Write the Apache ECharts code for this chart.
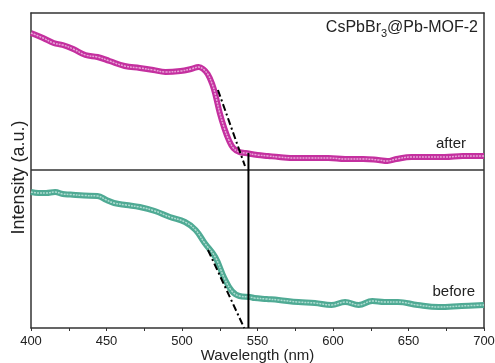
<!DOCTYPE html>
<html><head><meta charset="utf-8">
<script src="https://cdn.jsdelivr.net/npm/echarts@6/dist/echarts.min.js"></script>
<style>html,body{margin:0;padding:0;background:#fff}#c{width:495px;height:363px}</style>
</head><body><div id="c"></div>
<script>
// Wavelength (nm) and relative intensity (arbitrary units, offset-stacked)
const afterWl = [400,408,415,421,428,436,444,452,462,472,481,489,499,506,511,514,517,520,522,525,528,531,534,538,542,550,557,564,575,586,597,608,620,630,636,642,652,663,674,686,696,700];
const afterVal = [295,290,285,283,279,273,271,267,262,260,258,256,257,259,261,259,254,244,234,215,200,188,180,176,175,173,172,171,170,170,170,169,169,168,167,169,171,171,171,172,172,172];
const beforeWl = [400,405,410,416,421,426,435,444,450,455,463,472,482,492,502,509,515,522,528,533,538,545,548,556,564,577,588,599,608,617,626,634,643,656,670,685,700];
const beforeVal = [136,135,135,136,134,133.5,132.5,132,128,125,123,121,117,111,106,98,85,71,50,37,32,31,30,29,28,26,25,23,26,23,27,26,26,23,21,22,23];
const tangentAfter = [[523.8,238],[541.7,162]];
const tangentBefore = [[517.2,78],[541.2,0]];
const edgeWl = 544;
const edgeTop = 175;
const dividerVal = 158;
const xTicks = [400,450,500,550,600,650,700];

const zip = (a,b)=>a.map((x,i)=>[x,b[i]]);
const chart = echarts.init(document.getElementById('c'));
const font = 'Arial, "Liberation Sans", sans-serif';
const dashDot = [7,3,2,3];
const frameLine = {show:true,onZero:false,lineStyle:{color:'#333',width:1.5}};
chart.setOption({
  animation:false,
  grid:{left:31,right:11,top:13,bottom:35,outerBoundsMode:'none',containLabel:false},
  xAxis:[{type:'value',min:400,max:700,interval:50,
    axisLine:frameLine,
    axisTick:{show:true,inside:false,length:3,lineStyle:{color:'#333'}},
    minorTick:{show:true,splitNumber:2,length:3,lineStyle:{color:'#333'}},
    splitLine:{show:false},
    axisLabel:{color:'#222',fontSize:13,fontFamily:font,margin:7,
      formatter:v=>xTicks.includes(v)?String(v):''},
    name:'Wavelength (nm)',nameLocation:'middle',nameGap:20,nameMoveOverlap:false,
    nameTextStyle:{color:'#222',fontSize:15,fontFamily:font}},
   {type:'value',position:'top',min:400,max:700,
    axisLine:frameLine,
    axisTick:{show:false},axisLabel:{show:false},splitLine:{show:false}}],
  yAxis:[{type:'value',min:0,max:315,
    axisLine:frameLine,
    axisTick:{show:false},axisLabel:{show:false},splitLine:{show:false},
    name:'Intensity (a.u.)',nameLocation:'middle',nameGap:3,nameRotate:90,
    nameTextStyle:{color:'#222',fontSize:18,fontFamily:font,padding:[0,14,0,0]}},
   {type:'value',position:'right',min:0,max:315,
    axisLine:frameLine,
    axisTick:{show:false},axisLabel:{show:false},splitLine:{show:false}}],
  series:[
    {type:'line',data:[[400,dividerVal],[700,dividerVal]],showSymbol:false,silent:true,
      lineStyle:{color:'#333',width:1.5}},
    {type:'line',data:zip(afterWl,afterVal),smooth:0.4,showSymbol:false,
      lineStyle:{color:'#C4309F',width:6}},
    {type:'line',data:zip(afterWl,afterVal),smooth:0.4,showSymbol:false,
      lineStyle:{color:'#E8A6D8',width:1.5,type:[2,1]}},
    {type:'line',data:zip(beforeWl,beforeVal),smooth:0.4,showSymbol:false,
      lineStyle:{color:'#4FAA94',width:6}},
    {type:'line',data:zip(beforeWl,beforeVal),smooth:0.4,showSymbol:false,
      lineStyle:{color:'#B0DDD2',width:1.5,type:[2,1]}},
    {type:'line',data:tangentAfter,showSymbol:false,lineStyle:{color:'#000',width:2,type:dashDot}},
    {type:'line',data:tangentBefore,showSymbol:false,lineStyle:{color:'#000',width:2,type:dashDot}},
    {type:'line',data:[[edgeWl,0],[edgeWl,edgeTop]],showSymbol:false,lineStyle:{color:'#000',width:2}}
  ],
  graphic:[
    {type:'text',right:17,top:20,style:{text:'{a|CsPbBr}{s|3}{a|@Pb-MOF-2}',
      rich:{a:{fontSize:16,fontFamily:font,fill:'#222'},s:{fontSize:11,fontFamily:font,fill:'#222',padding:[11,0,0,0]}}}},
    {type:'text',right:29,top:136,style:{text:'after',fontSize:15,fontFamily:font,fill:'#222'}},
    {type:'text',right:20,top:284,style:{text:'before',fontSize:15,fontFamily:font,fill:'#222'}}
  ]
});
</script></body></html>
